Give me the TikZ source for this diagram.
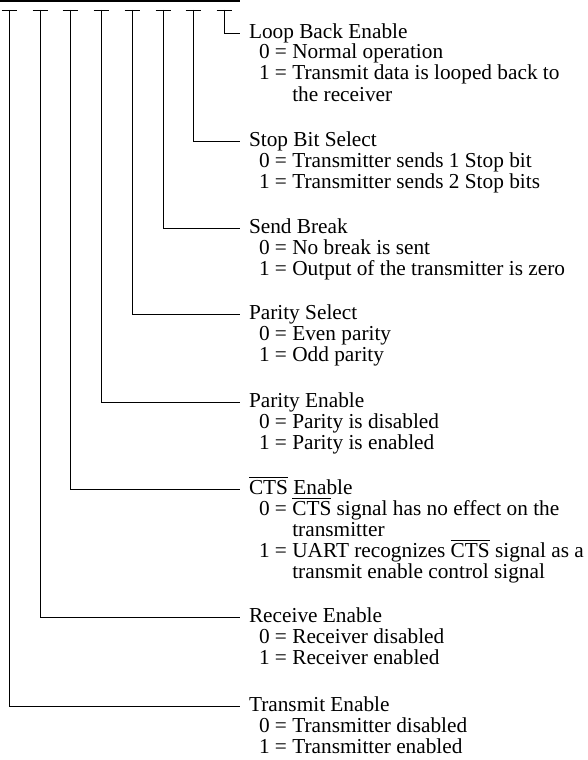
\documentclass[tikz,border=0pt]{standalone}
\usepackage{fontspec}
\setmainfont{Liberation Serif}
\newcommand\ctsbar{\leavevmode\vbox{\hrule height 0.8pt\kern 2.2pt\hbox{CTS}}}
\newcommand\hang{\phantom{1 = }}
\begin{document}
\begin{tikzpicture}[x=1pt,y=-1pt,
  lbl/.style={anchor=base west, inner sep=0pt, outer sep=0pt, font=\fontsize{21.3}{21.3}\selectfont},
  wire/.style={draw=black, line width=0.9pt},
  busline/.style={draw=black, line width=1.3pt}]
\useasboundingbox (0,0) rectangle (587,760);
\coordinate (busL) at (0,1);
\coordinate (busR) at (240,1);
\draw[busline] (busL) -- (busR);
\foreach \n/\x/\y in {1/224/33, 2/193/141, 3/163/228, 4/132/314, 5/101/402, 6/70/489, 7/40/617, 8/9/706}{
  \coordinate (top\n) at (\x,10);
  \coordinate (tl\n) at (\x-7.5,10);
  \coordinate (tr\n) at (\x+7.5,10);
  \coordinate (corner\n) at (\x,\y);
  \coordinate (end\n) at (240,\y);
  \draw[wire] (tl\n) -- (tr\n);
  \draw[wire] (top\n) -- (corner\n) -- (end\n);
}
% Loop Back Enable
\node[lbl] (h1) at (249,38) {Loop Back Enable};
\node[lbl] (h1a) at (259,59) {0 = Normal operation};
\node[lbl] (h1b) at (259,80) {1 = Transmit data is looped back to};
\node[lbl] (h1c) at (259,101) {\hang the receiver};
% Stop Bit Select
\node[lbl] (h2) at (249,146) {Stop Bit Select};
\node[lbl] (h2a) at (259,167) {0 = Transmitter sends 1 Stop bit};
\node[lbl] (h2b) at (259,188) {1 = Transmitter sends 2 Stop bits};
% Send Break
\node[lbl] (h3) at (249,233) {Send Break};
\node[lbl] (h3a) at (259,254) {0 = No break is sent};
\node[lbl] (h3b) at (259,275) {1 = Output of the transmitter is zero};
% Parity Select
\node[lbl] (h4) at (249,319) {Parity Select};
\node[lbl] (h4a) at (259,340) {0 = Even parity};
\node[lbl] (h4b) at (259,361) {1 = Odd parity};
% Parity Enable
\node[lbl] (h5) at (249,407) {Parity Enable};
\node[lbl] (h5a) at (259,428) {0 = Parity is disabled};
\node[lbl] (h5b) at (259,449) {1 = Parity is enabled};
% CTS Enable
\node[lbl] (h6) at (249,494) {\ctsbar{} Enable};
\node[lbl] (h6a) at (259,515) {0 = \ctsbar{} signal has no effect on the};
\node[lbl] (h6b) at (259,536) {\hang transmitter};
\node[lbl] (h6c) at (259,557) {1 = UART recognizes \ctsbar{} signal as a};
\node[lbl] (h6d) at (259,578) {\hang transmit enable control signal};
% Receive Enable
\node[lbl] (h7) at (249,622) {Receive Enable};
\node[lbl] (h7a) at (259,643) {0 = Receiver disabled};
\node[lbl] (h7b) at (259,664) {1 = Receiver enabled};
% Transmit Enable
\node[lbl] (h8) at (249,711) {Transmit Enable};
\node[lbl] (h8a) at (259,732) {0 = Transmitter disabled};
\node[lbl] (h8b) at (259,753) {1 = Transmitter enabled};
\end{tikzpicture}
\end{document}
